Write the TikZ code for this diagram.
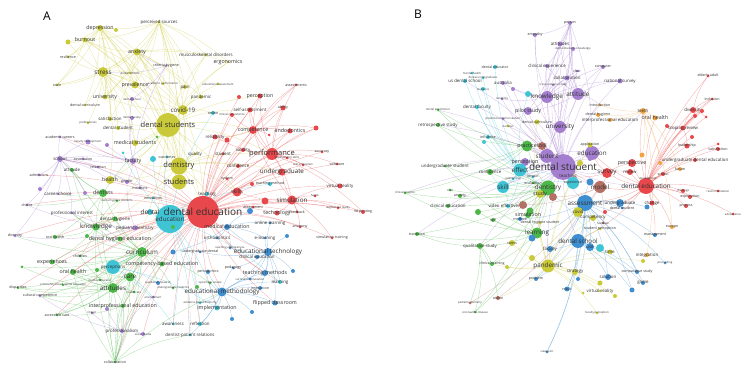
\documentclass[tikz,border=0pt]{standalone}
\usepackage{fontspec}
\setmainfont{Open Sans}
\usetikzlibrary{backgrounds}
\definecolor{cY}{HTML}{C9C93A}
\definecolor{cR}{HTML}{E8484B}
\definecolor{cG}{HTML}{4DB848}
\definecolor{cP}{HTML}{A47FD0}
\definecolor{cB}{HTML}{3E8ED0}
\definecolor{cC}{HTML}{3FC4D6}
\definecolor{cO}{HTML}{F2A341}
\definecolor{cN}{HTML}{B57065}
\definecolor{txt}{HTML}{303030}

\begin{document}
\begin{tikzpicture}[x=1pt, y=-1pt,
  dot/.style={circle, inner sep=0pt, draw=none, fill=#1},
  sz/.style={minimum size=#1pt},
  tx/.style n args={2}{label={[#1]center:#2}},
  f0/.style={font=\fontsize{2.8}{3}\selectfont, text=txt, inner sep=0pt},
  f1/.style={font=\fontsize{3.6}{4}\selectfont, text=txt, inner sep=0pt},
  f2/.style={font=\fontsize{4.4}{5}\selectfont, text=txt, inner sep=0pt},
  f3/.style={font=\fontsize{5.3}{6}\selectfont, text=txt, inner sep=0pt},
  f4/.style={font=\fontsize{6.3}{7}\selectfont, text=txt, inner sep=0pt},
  f5/.style={font=\fontsize{7.5}{8}\selectfont, text=txt, inner sep=0pt},
  f6/.style={font=\fontsize{10}{11}\selectfont, text=txt, inner sep=0pt},
  panel/.style={font=\fontsize{12}{12}\selectfont, text=black},
  eY/.style={draw=cY, draw opacity=0.45, line width=0.35pt},
  eR/.style={draw=cR, draw opacity=0.45, line width=0.35pt},
  eG/.style={draw=cG, draw opacity=0.45, line width=0.35pt},
  eP/.style={draw=cP, draw opacity=0.45, line width=0.35pt},
  eB/.style={draw=cB, draw opacity=0.45, line width=0.35pt},
  eC/.style={draw=cC, draw opacity=0.45, line width=0.35pt},
  eO/.style={draw=cO, draw opacity=0.45, line width=0.35pt},
  eN/.style={draw=cN, draw opacity=0.45, line width=0.35pt}
]
\useasboundingbox (0,0) rectangle (750,371);

\node[panel] (pA) at (47,16) {A};
\node[panel] (pB) at (418,14) {B};

% ---------------- A: big ones first
\node[dot=cC, sz=28, tx={f4}{education}] (educ) at (170,219) {};
\node[dot=cR, sz=32, tx={f6}{dental education}] (dedu) at (203,212) {};
\node[dot=cY, sz=24, tx={f5}{dental students}] (dstuds) at (168,125) {};
\node[dot=cY, sz=17, tx={f5}{dentistry}] (dentty) at (179,166) {};
\node[dot=cY, sz=15, tx={f5}{students}] (studs) at (179,182) {};

% A: yellow
\node[dot=cY, sz=3, tx={f2}{perceived sources}] (percv) at (159,22) {};
\node[dot=cY, sz=6, tx={f3}{depression}] (depr) at (100,28) {};
\node[dot=cY, sz=4] (ya1) at (116,30) {};
\node[dot=cY, sz=5, tx={f3}{burnout}] (burn) at (85,40) {};
\node[dot=cY, sz=5] (ya2) at (68,42) {};
\node[dot=cY, sz=7, tx={f3}{anxiety}] (anx) at (137,52) {};
\node[dot=cY, sz=3, tx={f1}{resilience}] (resil) at (68,57) {};
\node[dot=cY, sz=3, tx={f2}{musculoskeletal disorders}] (muscl) at (206,55) {};
\node[dot=cY, sz=3, tx={f3}{ergonomics}] (ergo) at (228,62) {};
\node[dot=cP, sz=3, tx={f1}{criteria hygiene}] (crit) at (166,66) {};
\node[dot=cY, sz=10, tx={f4}{stress}] (stress) at (103,72) {};
\node[dot=cY, sz=3, tx={f0}{dental schools}] (dschs) at (130,73) {};
\node[dot=cY, sz=3, tx={f1}{scale}] (scale) at (57,85) {};
\node[dot=cY, sz=7, tx={f3}{prevalence}] (preval) at (135,85) {};
\node[dot=cY, sz=3, tx={f0}{academic performance}] (acperf) at (163,84) {};
\node[dot=cY, sz=4, tx={f2}{pain}] (pain) at (185,87) {};
\node[dot=cY, sz=3, tx={f0}{educational assessment}] (edass) at (218,84) {};
\node[dot=cY, sz=4, tx={f2}{pandemic}] (pand) at (201,97) {};
\node[dot=cY, sz=5, tx={f3}{university}] (univ) at (105,97) {};
\node[dot=cP, sz=4, tx={f0}{dental school}] (dschp) at (132,99) {};
\node[dot=cY, sz=3, tx={f1}{dental curriculum}] (dcurr) at (85,105) {};
\node[dot=cY, sz=10, tx={f4}{covid-19}] (covid) at (183,110) {};
\node[dot=cY, sz=4, tx={f2}{satisfaction}] (satis) at (110,119) {};
\node[dot=cY, sz=3, tx={f0}{professionals}] (profs) at (88,123) {};
\node[dot=cP, sz=4, tx={f0}{dental faculty}] (dfac) at (132,118) {};
\node[dot=cY, sz=4, tx={f2}{dental student}] (dstu1) at (118,128) {};
\node[dot=cY, sz=6, tx={f3}{medical students}] (medstu) at (135,143) {};
\node[dot=cY, sz=8, tx={f3}{health}] (health) at (110,180) {};
\node[dot=cY, sz=3, tx={f2}{quality}] (quality) at (195,154) {};

% A: red
\node[dot=cR, sz=3, tx={f1}{assessments}] (assmts) at (296,85) {};
\node[dot=cR, sz=4] (ra1) at (239,97) {};
\node[dot=cR, sz=5, tx={f3}{perception}] (percp) at (260,96) {};
\node[dot=cR, sz=5, tx={f1}{ability}] (abil) at (283,108) {};
\node[dot=cR, sz=5, tx={f2}{self-assessment}] (selfas) at (250,110) {};
\node[dot=cR, sz=4, tx={f0}{clinical competence}] (clcomp) at (232,115) {};
\node[dot=cC, sz=4, tx={f1}{online}] (online) at (213,113) {};
\node[dot=cR, sz=5] (ra2) at (316,128) {};
\node[dot=cR, sz=8, tx={f3}{competence}] (compet) at (253,130) {};
\node[dot=cR, sz=5, tx={f3}{endodontics}] (endo) at (290,131) {};
\node[dot=cR, sz=3] (ra6) at (269,135) {};
\node[dot=cR, sz=5, tx={f2}{reliability}] (relia) at (215,137) {};
\node[dot=cR, sz=5] (ra3) at (227,140) {};
\node[dot=cR, sz=4, tx={f2}{validity}] (valid) at (243,150) {};
\node[dot=cR, sz=12, tx={f5}{performance}] (perf) at (272,154) {};
\node[dot=cR, sz=3, tx={f1}{accuracy}] (accur) at (322,152) {};
\node[dot=cR, sz=3, tx={f0}{psychomotor skills}] (psych) at (287,158) {};
\node[dot=cR, sz=3, tx={f2}{student}] (student) at (223,154) {};
\node[dot=cR, sz=4, tx={f2}{confidence}] (confid) at (238,166) {};
\node[dot=cR, sz=3, tx={f0}{skill acquisition}] (skacq) at (303,165) {};
\node[dot=cR, sz=3, tx={f1}{software}] (softw) at (337,164) {};
\node[dot=cR, sz=7, tx={f4}{undergraduate}] (ugrad) at (282,172) {};
\node[dot=cR, sz=3, tx={f1}{system}] (system) at (227,179) {};
\node[dot=cC, sz=4, tx={f1}{teaching method}] (teachm) at (270,184) {};
\node[dot=cR, sz=4] (ra4) at (252,184) {};
\node[dot=cR, sz=5, tx={f2}{virtual reality}] (vr) at (340,186) {};
\node[dot=cR, sz=9, tx={f3}{skills}] (skills) at (237,192) {};
\node[dot=cC, sz=4, tx={f2}{teaching}] (teach) at (207,194) {};
\node[dot=cR, sz=9, tx={f4}{simulation}] (simul) at (292,200) {};
\node[dot=cR, sz=7] (ra5) at (265,201) {};
\node[dot=cR, sz=3, tx={f0}{haptic}] (haptic) at (315,196) {};
\node[dot=cR, sz=3, tx={f1}{assessment}] (assmt) at (253,207) {};
\node[dot=cB, sz=6] (ba1) at (250,211) {};
\node[dot=cR, sz=5, tx={f3}{technology}] (techn) at (277,213) {};
\node[dot=cR, sz=3, tx={f1}{feedback}] (feedb) at (297,212) {};
\node[dot=cR, sz=3, tx={f0}{augmented reality}] (augr) at (338,208) {};
\node[dot=cR, sz=4, tx={f1}{3d printing}] (print3d) at (363,212) {};
\node[dot=cR, sz=3, tx={f1}{anatomy}] (anat) at (300,227) {};
\node[dot=cR, sz=3, tx={f1}{simulation training}] (simtr) at (332,238) {};

% A: blue / cyan
\node[dot=cC, sz=6, tx={f4}{dental}] (dental) at (150,212) {};
\node[dot=cB, sz=3, tx={f2}{online learning}] (onll) at (270,223) {};
\node[dot=cB, sz=6, tx={f3}{medical education}] (mededu) at (227,227) {};
\node[dot=cB, sz=3, tx={f2}{orthodontics}] (ortho) at (217,238) {};
\node[dot=cB, sz=3, tx={f2}{e-learning}] (elearn) at (265,238) {};
\node[dot=cB, sz=4] (ba2) at (287,236) {};
\node[dot=cB, sz=3, tx={f0}{teaching effectiveness}] (teacheff) at (230,248) {};
\node[dot=cB, sz=3, tx={f1}{undergraduate dental}] (ugdent) at (200,252) {};
\node[dot=cB, sz=8, tx={f4}{educational technology}] (edtech) at (268,252) {};
\node[dot=cB, sz=4, tx={f2}{clinical education}] (clinedu) at (257,257) {};
\node[dot=cB, sz=4, tx={f1}{periodontics}] (ortho2) at (208,272) {};
\node[dot=cB, sz=3, tx={f1}{pedagogy}] (pedag) at (233,268) {};
\node[dot=cB, sz=6, tx={f3}{teaching methods}] (teachms) at (265,273) {};
\node[dot=cB, sz=4] (ba4) at (293,271) {};
\node[dot=cC, sz=4, tx={f2}{learning}] (learning) at (280,282) {};
\node[dot=cB, sz=3, tx={f0}{curriculum innovation}] (curinn) at (250,279) {};
\node[dot=cG, sz=3, tx={f0}{systematic review}] (sysrev) at (210,283) {};
\node[dot=cG, sz=4] (ga6) at (197,287) {};
\node[dot=cB, sz=9, tx={f4}{educational methodology}] (edmeth) at (222,292) {};
\node[dot=cB, sz=4, tx={f1}{instruction}] (instr) at (260,288) {};
\node[dot=cB, sz=5, tx={f3}{flipped classroom}] (flip) at (275,303) {};
\node[dot=cB, sz=4] (ba5) at (252,312) {};
\node[dot=cB, sz=4] (ba6) at (232,319) {};
\node[dot=cC, sz=5, tx={f3}{implementation}] (implem) at (217,308) {};
\node[dot=cC, sz=3, tx={f0}{evidence-based dentistry}] (ebd) at (200,303) {};
\node[dot=cC, sz=4, tx={f2}{reflection}] (reflec) at (200,324) {};
\node[dot=cC, sz=3, tx={f2}{dentist-patient relations}] (dpr) at (190,335) {};
\node[dot=cC, sz=3, tx={f2}{awareness}] (aware) at (173,324) {};
\node[dot=cC, sz=3] (ca1) at (123,153) {};
\node[dot=cC, sz=6] (ca2) at (153,159) {};
\node[dot=cC, sz=3, tx={f1}{outcomes}] (outc) at (167,157) {};
\node[dot=cC, sz=3, tx={f1}{innovation}] (innov) at (153,198) {};

% A: purple / green
\node[dot=cP, sz=3, tx={f1}{academic careers}] (accar) at (60,137) {};
\node[dot=cP, sz=5, tx={f0}{faculty development}] (facdev) at (88,142) {};
\node[dot=cP, sz=4] (pa1) at (107,145) {};
\node[dot=cG, sz=3] (ga1) at (157,137) {};
\node[dot=cP, sz=6, tx={f2}{school}] (school) at (60,159) {};
\node[dot=cP, sz=3, tx={f1}{association}] (assoc) at (83,159) {};
\node[dot=cP, sz=3, tx={f1}{retention}] (reten) at (98,167) {};
\node[dot=cG, sz=4, tx={f2}{attitude}] (attit) at (72,170) {};
\node[dot=cP, sz=6, tx={f3}{faculty}] (faculty) at (133,161) {};
\node[dot=cP, sz=3, tx={f1}{admissions}] (admis) at (39,175) {};
\node[dot=cP, sz=4, tx={f1}{gender}] (gender) at (127,182) {};
\node[dot=cP, sz=3, tx={f1}{medicine}] (medic) at (140,188) {};
\node[dot=cP, sz=3, tx={f2}{career choice}] (carch) at (58,194) {};
\node[dot=cP, sz=4] (pa2) at (40,189) {};
\node[dot=cP, sz=4] (pa3) at (85,193) {};
\node[dot=cG, sz=8, tx={f3}{dentists}] (dentists) at (103,193) {};
\node[dot=cG, sz=3, tx={f0}{dental hygiene students}] (dhstud) at (117,201) {};
\node[dot=cP, sz=3, tx={f1}{choice}] (choice) at (27,205) {};
\node[dot=cP, sz=3, tx={f2}{professional interest}] (profint) at (72,213) {};
\node[dot=cG, sz=5, tx={f2}{dental hygiene}] (dhyg) at (115,219) {};
\node[dot=cG, sz=7, tx={f4}{knowledge}] (knowl) at (96,227) {};
\node[dot=cP, sz=5, tx={f2}{pediatric dentistry}] (pedd) at (135,228) {};
\node[dot=cG, sz=4] (ga2) at (173,227) {};
\node[dot=cP, sz=3, tx={f1}{diversity}] (divers) at (15,236) {};
\node[dot=cG, sz=4, tx={f1}{oral health}] (oralha) at (55,237) {};
\node[dot=cG, sz=4] (ga3) at (87,236) {};
\node[dot=cG, sz=5, tx={f3}{dental hygiene education}] (dhedu) at (120,239) {};
\node[dot=cG, sz=3, tx={f1}{children}] (child) at (80,256) {};
\node[dot=cG, sz=5, tx={f3}{experiences}] (exper) at (52,262) {};
\node[dot=cG, sz=3] (ga4) at (22,267) {};
\node[dot=cC, sz=14, tx={f2}{perceptions}] (percps) at (113,267) {};
\node[dot=cG, sz=10, tx={f4}{curriculum}] (curric) at (142,252) {};
\node[dot=cG, sz=5, tx={f3}{competency-based education}] (cbe) at (162,264) {};
\node[dot=cB, sz=5] (ba3) at (173,252) {};
\node[dot=cG, sz=6, tx={f3}{oral health}] (oralh) at (73,272) {};
\node[dot=cG, sz=9, tx={f4}{care}] (care) at (130,277) {};
\node[dot=cG, sz=4] (ga5) at (97,270) {};
\node[dot=cG, sz=3, tx={f0}{medical educator}] (mededr) at (100,280) {};
\node[dot=cG, sz=3, tx={f1}{disparities}] (dispar) at (18,288) {};
\node[dot=cG, sz=3, tx={f0}{community based dental education}] (cbde) at (63,285) {};
\node[dot=cG, sz=10, tx={f4}{attitudes}] (attits) at (113,288) {};
\node[dot=cG, sz=3, tx={f0}{health care}] (hcare) at (134,292) {};
\node[dot=cB, sz=4, tx={f0}{qualitative research}] (qualr) at (158,283) {};
\node[dot=cG, sz=3, tx={f0}{undergraduate students}] (ugstud) at (173,288) {};
\node[dot=cP, sz=3, tx={f1}{cultural competence}] (cultc) at (40,296) {};
\node[dot=cP, sz=3, tx={f0}{environment}] (envir) at (153,297) {};
\node[dot=cG, sz=4, tx={f3}{interprofessional education}] (ipe) at (123,306) {};
\node[dot=cP, sz=4] (pa4) at (107,309) {};
\node[dot=cG, sz=3, tx={f1}{accessible care}] (accc) at (57,315) {};
\node[dot=cP, sz=3, tx={f0}{impact}] (impact) at (92,313) {};
\node[dot=cP, sz=4, tx={f2}{professionalism}] (profsm) at (122,331) {};
\node[dot=cP, sz=4, tx={f0}{social media}] (socmed) at (143,334) {};
\node[dot=cG, sz=3, tx={f1}{collaboration}] (collab) at (115,362) {};

% ---------------- B: big ones first
\node[dot=cP, sz=26, tx={f6}{dental student}] (dstub) at (563,167) {};
\node[dot=cR, sz=16, tx={f4}{dental education}] (dedub) at (646,186) {};
\node[dot=cB, sz=16, tx={f4}{assessment}] (assmtb) at (585,203) {};
\node[dot=cG, sz=15, tx={f4}{dentistry}] (dentb) at (548,188) {};

% B: purple
\node[dot=cP, sz=4, tx={f1}{person}] (person) at (570,23) {};
\node[dot=cP, sz=4, tx={f1}{empathy}] (empathy) at (535,35) {};
\node[dot=cP, sz=5, tx={f2}{attitudes}] (attds) at (560,44) {};
\node[dot=cP, sz=4, tx={f0}{dental students knowledge}] (dsk) at (573,49) {};
\node[dot=cP, sz=4, tx={f2}{clinical experience}] (clexp) at (547,66) {};
\node[dot=cP, sz=3, tx={f1}{chat}] (chat) at (577,71) {};
\node[dot=cP, sz=4, tx={f1}{computer}] (comp) at (603,67) {};
\node[dot=cP, sz=4, tx={f2}{australia}] (austr) at (503,83) {};
\node[dot=cP, sz=5, tx={f2}{collaboration}] (collb) at (567,78) {};
\node[dot=cP, sz=3, tx={f0}{cross-sectional study}] (cross) at (553,85) {};
\node[dot=cP, sz=5, tx={f2}{national survey}] (natsv) at (620,81) {};
\node[dot=cP, sz=4] (pb1) at (513,89) {};
\node[dot=cP, sz=12, tx={f4}{knowledge}] (knowb) at (547,97) {};
\node[dot=cP, sz=12, tx={f4}{attitude}] (attb) at (578,94) {};
\node[dot=cP, sz=3, tx={f0}{reliability}] (relb) at (502,99) {};
\node[dot=cP, sz=8, tx={f3}{pilot study}] (pilot) at (528,111) {};
\node[dot=cP, sz=3, tx={f0}{predoctoral dental student}] (pdedu) at (503,119) {};
\node[dot=cP, sz=12, tx={f4}{university}] (univb) at (560,127) {};
\node[dot=cP, sz=14, tx={f4}{student}] (studb) at (547,156) {};
\node[dot=cP, sz=8, tx={f3}{perception}] (percb) at (525,162) {};
\node[dot=cP, sz=14, tx={f4}{education}] (edub) at (592,153) {};
\node[dot=cP, sz=4] (ethics) at (590,159) {};
\node[dot=cP, sz=6, tx={f2}{teaching}] (teachb) at (568,176) {};

% B: cyan
\node[dot=cC, sz=4, tx={f1}{dental educator}] (deducr) at (495,67) {};
\node[dot=cC, sz=3, tx={f0}{mental health}] (menth) at (472,73) {};
\node[dot=cC, sz=3, tx={f0}{dental undergraduate}] (dug) at (483,78) {};
\node[dot=cC, sz=4, tx={f2}{us dental school}] (usds) at (465,81) {};
\node[dot=cC, sz=4, tx={f0}{resilience}] (resilb) at (483,89) {};
\node[dot=cC, sz=6] (cb1) at (528,94) {};
\node[dot=cC, sz=4, tx={f2}{dental faculty}] (dfacb) at (477,107) {};
\node[dot=cC, sz=4, tx={f1}{influence}] (influ) at (488,137) {};
\node[dot=cC, sz=4] (cb2) at (484,142) {};
\node[dot=cC, sz=13, tx={f4}{effect}] (effect) at (520,170) {};
\node[dot=cC, sz=3, tx={f1}{impact}] (impctb) at (533,177) {};
\node[dot=cC, sz=3, tx={f0}{relationship}] (relsh) at (513,179) {};
\node[dot=cC, sz=12, tx={f4}{skill}] (skill) at (503,187) {};
\node[dot=cC, sz=4, tx={f2}{video effectiveness}] (video) at (508,206) {};
\node[dot=cC, sz=12, tx={f1}{experience}] (cb4) at (573,183) {};
\node[dot=cC, sz=8] (cb3) at (600,248) {};

% B: green
\node[dot=cG, sz=3, tx={f0}{dental practitioner}] (dprac) at (438,110) {};
\node[dot=cG, sz=4, tx={f2}{retrospective study}] (retro) at (438,125) {};
\node[dot=cG, sz=11, tx={f3}{practice}] (pract) at (527,146) {};
\node[dot=cG, sz=3, tx={f2}{undergraduate student}] (ugstb) at (445,166) {};
\node[dot=cG, sz=6, tx={f2}{confidence}] (confb) at (490,172) {};
\node[dot=cG, sz=3, tx={f1}{evaluation}] (evalb) at (533,183) {};
\node[dot=cG, sz=3, tx={f0}{clinical practice}] (clprac) at (405,193) {};
\node[dot=cG, sz=3, tx={f0}{trial}] (trial) at (450,190) {};
\node[dot=cG, sz=4, tx={f1}{anxiety}] (anxb) at (460,196) {};
\node[dot=cG, sz=4, tx={f2}{clinical education}] (cledb) at (448,206) {};
\node[dot=cG, sz=6] (gb1) at (478,212) {};
\node[dot=cG, sz=7] (gb2) at (530,211) {};
\node[dot=cG, sz=6, tx={f3}{simulation}] (simb) at (528,215) {};
\node[dot=cG, sz=4, tx={f1}{self}] (self) at (493,220) {};
\node[dot=cG, sz=4, tx={f1}{transition}] (trans) at (417,234) {};
\node[dot=cG, sz=11, tx={f4}{learning}] (learnb) at (537,233) {};
\node[dot=cG, sz=6, tx={f2}{qualitative study}] (qual) at (480,246) {};
\node[dot=cG, sz=4, tx={f1}{clinical training}] (cltr) at (492,264) {};
\node[dot=cG, sz=3, tx={f0}{coronavirus disease}] (coro) at (475,312) {};

% B: brown / blue / yellow
\node[dot=cN, sz=8, tx={f3}{tool}] (tool) at (542,146) {};
\node[dot=cN, sz=8] (bb1) at (553,197) {};
\node[dot=cN, sz=8] (bb2) at (523,205) {};
\node[dot=cN, sz=12, tx={f4}{model}] (model) at (600,187) {};
\node[dot=cN, sz=4, tx={f1}{online}] (onlineb) at (498,298) {};
\node[dot=cN, sz=3, tx={f0}{pediatric dentistry}] (pedb) at (470,303) {};
\node[dot=cN, sz=3, tx={f0}{feedback}] (feedbb) at (603,223) {};
\node[dot=cY, sz=5, tx={f1}{dental curriculum}] (dcurb) at (537,122) {};
\node[dot=cY, sz=3, tx={f0}{burnout}] (burnb) at (508,126) {};
\node[dot=cY, sz=8, tx={f3}{study}] (study) at (540,194) {};
\node[dot=cY, sz=3, tx={f1}{dental hygiene student}] (dhst) at (540,223) {};
\node[dot=cY, sz=6, tx={f1}{stress}] (stressb) at (512,243) {};
\node[dot=cY, sz=4] (yb1) at (507,267) {};
\node[dot=cY, sz=6] (yb2) at (532,258) {};
\node[dot=cY, sz=13, tx={f4}{pandemic}] (pandb) at (548,266) {};
\node[dot=cY, sz=5, tx={f2}{time}] (time) at (610,252) {};
\node[dot=cY, sz=4] (yb3) at (643,261) {};
\node[dot=cY, sz=6, tx={f2}{strategy}] (strat) at (575,272) {};
\node[dot=cY, sz=5] (yb4) at (600,283) {};
\node[dot=cY, sz=3, tx={f2}{virtual reality}] (vrb) at (600,291) {};
\node[dot=cY, sz=4] (yb5) at (615,296) {};
\node[dot=cY, sz=3] (yb6) at (583,293) {};
\node[dot=cY, sz=3, tx={f0}{faculty perception}] (facper) at (597,313) {};
\node[dot=cY, sz=5, tx={f1}{application}] (appl) at (590,145) {};
\node[dot=cY, sz=6] (yb7) at (580,163) {};
\node[dot=cY, sz=10, tx={f2}{covid}] (covb) at (578,212) {};
\node[dot=cY, sz=6, tx={f2}{competency}] (compt) at (593,218) {};
\node[dot=cY, sz=3, tx={f1}{student perception}] (stper) at (600,229) {};
\node[dot=cB, sz=4, tx={f1}{method}] (method) at (520,219) {};
\node[dot=cB, sz=7] (bb3) at (532,238) {};
\node[dot=cB, sz=14, tx={f4}{dental school}] (dschb) at (578,241) {};
\node[dot=cB, sz=8, tx={f2}{use}] (use) at (590,247) {};
\node[dot=cB, sz=6, tx={f2}{faculty}] (faculb) at (550,249) {};
\node[dot=cB, sz=4, tx={f1}{problem}] (probl) at (536,279) {};
\node[dot=cB, sz=4] (bb5) at (578,279) {};
\node[dot=cB, sz=5, tx={f1}{result}] (result) at (567,289) {};
\node[dot=cB, sz=3, tx={f0}{viewpoint}] (viewp) at (547,352) {};
\node[dot=cB, sz=3, tx={f0}{proceeding}] (proc) at (665,263) {};
\node[dot=cB, sz=4, tx={f1}{comparative study}] (compst) at (637,272) {};
\node[dot=cB, sz=6, tx={f2}{solution}] (solut) at (608,277) {};
\node[dot=cB, sz=4, tx={f2}{game}] (game) at (643,283) {};
\node[dot=cB, sz=5] (bb4) at (632,290) {};
\node[dot=cB, sz=7] (bb6) at (590,182) {};
\node[dot=cB, sz=8, tx={f2}{undergraduate}] (ugb) at (620,203) {};
\node[dot=cB, sz=3, tx={f1}{dental student}] (dstb2) at (622,208) {};
\node[dot=cB, sz=5] (bb7) at (647,207) {};
\node[dot=cB, sz=4, tx={f1}{management}] (mgmt) at (655,235) {};

% B: orange / red
\node[dot=cO, sz=3, tx={f1}{introduction}] (intro) at (600,105) {};
\node[dot=cO, sz=6, tx={f2}{teeth}] (teeth) at (643,111) {};
\node[dot=cO, sz=4, tx={f1}{dental hygiene}] (dhygb) at (598,115) {};
\node[dot=cO, sz=4, tx={f2}{interprofessional education}] (ipeb) at (610,120) {};
\node[dot=cO, sz=5, tx={f3}{oral health}] (oralhb) at (655,118) {};
\node[dot=cO, sz=5] (ob1) at (642,155) {};
\node[dot=cO, sz=4] (ob2) at (660,163) {};
\node[dot=cO, sz=4, tx={f1}{future}] (future) at (680,169) {};
\node[dot=cO, sz=4, tx={f2}{integration}] (integ) at (647,255) {};
\node[dot=cO, sz=4, tx={f1}{europe}] (europe) at (672,227) {};
\node[dot=cR, sz=3, tx={f1}{elderly adult}] (eldad) at (708,76) {};
\node[dot=cR, sz=3, tx={f1}{inclusion}] (inclu) at (712,99) {};
\node[dot=cR, sz=6, tx={f2}{diversity}] (diverb) at (693,110) {};
\node[dot=cR, sz=4] (rb1) at (702,111) {};
\node[dot=cR, sz=4] (rb2) at (695,116) {};
\node[dot=cR, sz=3] (rb3) at (706,117) {};
\node[dot=cR, sz=4] (rb4) at (667,126) {};
\node[dot=cR, sz=5, tx={f2}{scoping review}] (scopr) at (683,128) {};
\node[dot=cR, sz=4] (rb5) at (692,137) {};
\node[dot=cR, sz=3] (rb6) at (718,144) {};
\node[dot=cR, sz=5, tx={f1}{leadership}] (leader) at (687,146) {};
\node[dot=cR, sz=4, tx={f1}{satisfaction}] (satb) at (718,149) {};
\node[dot=cR, sz=8, tx={f3}{perspective}] (persp) at (632,163) {};
\node[dot=cR, sz=4, tx={f2}{undergraduate dental education}] (ugde) at (695,160) {};
\node[dot=cR, sz=6, tx={f2}{review}] (review) at (630,172) {};
\node[dot=cR, sz=4, tx={f1}{school}] (schoolb) at (663,174) {};
\node[dot=cR, sz=10, tx={f4}{survey}] (survey) at (607,173) {};
\node[dot=cR, sz=3, tx={f0}{development}] (devel) at (648,179) {};
\node[dot=cR, sz=3, tx={f0}{recommendation}] (recom) at (718,191) {};
\node[dot=cR, sz=4, tx={f0}{challenge}] (chall) at (683,191) {};
\node[dot=cR, sz=4, tx={f1}{exploration}] (explor) at (690,197) {};
\node[dot=cR, sz=5, tx={f2}{change}] (change) at (652,203) {};
\node[dot=cR, sz=4, tx={f1}{process}] (process) at (686,206) {};
\node[dot=cR, sz=3, tx={f0}{adolescence}] (adol) at (733,214) {};
\node[dot=cR, sz=4] (rb7) at (605,212) {};

% ---------------- links
\begin{scope}[on background layer]
% A
\foreach \b in {depr,anx,stress,burn,preval,muscl,ergo,covid,dstuds,univ,pand,pain,dentty,studs,acperf,dschs}
  \draw[eY] (percv) to[bend left=10] (\b);
\foreach \b in {burn,ya1,ya2,anx,stress,resil,scale,preval,univ,dstuds,covid,dcurr,satis,dentty,studs,medstu}
  \draw[eY] (depr) to[bend left=10] (\b);
\foreach \b in {burn,stress,preval,covid,dstuds,univ,scale,pand,satis,studs,muscl,acperf,dentty,pain,ergo}
  \draw[eY] (anx) to[bend left=10] (\b);
\foreach \b in {resil,scale,univ,dcurr,satis,dstu1,dstuds,covid,medstu,studs,dentty,health,ya2,preval,profs,dschs}
  \draw[eY] (stress) to[bend left=10] (\b);
\foreach \b in {ya2,resil,univ,dstuds,covid,scale,preval}
  \draw[eY] (burn) to[bend left=10] (\b);
\foreach \b in {pand,pain,dstuds,dentty,online,edass,ergo,muscl,studs,dedu,medstu,preval,univ}
  \draw[eY] (covid) to[bend left=10] (\b);
\foreach \b in {studs,dentty,health,dedu,perf,percp,selfas,muscl,ergo,quality,medstu,knowl,attits,curric,skills,compet,faculty,satis,dstu1}
  \draw[eY] (dstuds) to[bend left=10] (\b);
\foreach \b in {dedu,perf,skills,compet,quality,student,health,faculty,confid,teach,ugrad,knowl}
  \draw[eY] (dentty) to[bend left=10] (\b);
\foreach \b in {perf,skills,simul,compet,endo,percp,assmts,abil,selfas,vr,print3d,simtr,accur,softw,ugrad,techn,anat,feedb,augr,relia,valid,confid,system,student,clcomp,ra1,ra2,ra3,ra4,ra5,skacq,psych}
  \draw[eR] (dedu) to[bend left=10] (\b);
\foreach \b in {curric,attits,knowl,dentists,school,health,edtech,edmeth,flip,collab,profsm,ipe,oralh,exper,divers,choice,carch,teachms,learning,mededu,care,cbe,admis,accar,dhedu,dpr,aware,reflec,implem,faculty,oralha,child,cultc,accc,dispar,socmed}
  \draw[eR] (dedu) to[bend right=10] (\b);
\foreach \b in {accur,softw,vr,skills,simul,compet,endo,assmts,abil,ugrad,valid,relia,skacq,psych,percp,selfas,ra2,confid,print3d}
  \draw[eR] (perf) to[bend left=10] (\b);
\foreach \b in {vr,print3d,haptic,simtr,augr,techn,feedb,anat,skills,ugrad,compet,ra5}
  \draw[eR] (simul) to[bend left=10] (\b);
\foreach \b in {endo,percp,abil,selfas,assmts,relia,valid,ra2,clcomp,ra6}
  \draw[eR] (compet) to[bend left=10] (\b);
\foreach \b in {attits,care,knowl,dentists,cbe,oralh,exper,child,ipe,collab,dhedu,dhyg,ga2,ga3,ga5,dispar,cultc,accc,cbde,hcare,qualr,ugstud,sysrev,divers,ga4,profint,attit}
  \draw[eG] (curric) to[bend left=10] (\b);
\foreach \b in {care,knowl,oralh,collab,ipe,dispar,cultc,accc,exper,dentists,child,mededr,cbde,ga4,hcare}
  \draw[eG] (attits) to[bend left=10] (\b);
\foreach \b in {oralh,ipe,accc,dispar,collab,hcare,ga5}
  \draw[eG] (care) to[bend left=10] (\b);
\foreach \b in {dentists,dhyg,attit,dhedu,oralha,profint,exper,child,dhstud}
  \draw[eG] (knowl) to[bend left=10] (\b);
\foreach \b in {collab,profsm,accc,cultc}
  \draw[eG] (ipe) to[bend left=10] (\b);
\foreach \b in {attit,carch,choice,oralha,school,ga1}
  \draw[eG] (dentists) to[bend left=10] (\b);
\foreach \b in {curric,attits,care,profsm,knowl,percps,edmeth,dpr,cbe,oralh}
  \draw[eG] (collab) to[bend left=10] (\b);
\foreach \b in {accar,admis,assoc,choice,carch,profint,divers,pa2,pa3,attit,reten,facdev,faculty,gender,medic,health}
  \draw[eP] (school) to[bend left=10] (\b);
\foreach \b in {facdev,pa1,gender,medic,assoc,accar,crit,dfac,dschp}
  \draw[eP] (faculty) to[bend left=10] (\b);
\foreach \b in {socmed,collab,cultc,envir,pa4,impact,ipe}
  \draw[eP] (profsm) to[bend left=10] (\b);
\foreach \b in {gender,divers,choice,profint}
  \draw[eP] (pedd) to[bend left=10] (\b);
\foreach \b in {anx,stress,dschp}
  \draw[eP] (crit) to[bend left=10] (\b);
\foreach \b in {teachms,flip,learning,curinn,instr,pedag,clinedu,onll,elearn,mededu,ba4,ba2,teacheff,ugdent,edmeth}
  \draw[eB] (edtech) to[bend left=10] (\b);
\foreach \b in {teachms,flip,learning,implem,reflec,ba5,ba6,instr,curinn,pedag,sysrev,ortho2,dpr,ebd,ga6}
  \draw[eB] (edmeth) to[bend left=10] (\b);
\foreach \b in {onll,elearn,ortho,ba1,teacheff,ba3}
  \draw[eB] (mededu) to[bend left=10] (\b);
\foreach \b in {percps,online,teach,innov,outc,ca1,ca2,aware,implem,reflec,dpr,ebd,dental,learning,teachm}
  \draw[eC] (educ) to[bend left=10] (\b);
\foreach \b in {aware,envir,implem,qualr}
  \draw[eC] (percps) to[bend left=10] (\b);
% B
\foreach \b in {studb,percb,knowb,attb,univb,pilot,edub,teachb,clexp,attds,collb,person,empathy,austr,comp,natsv,chat,cross,dsk,relb,pb1,ethics,intro,pdedu}
  \draw[eP] (dstub) to[bend left=10] (\b);
\foreach \b in {effect,skill,dentb,study,pract,tool,assmtb,model,survey,dedub,learnb,pandb,dschb,confb,ugstb,clprac,trans,qual,simb,video,cledb,retro,dprac,cb1,usds,dfacb,influ,teeth,dcurb,burnb}
  \draw[eP] (dstub) to[bend right=10] (\b);
\foreach \b in {attb,attds,person,empathy,clexp,collb,austr,pilot,univb,cross,dsk,relb,pb1,cb1,natsv,comp,chat}
  \draw[eP] (knowb) to[bend left=10] (\b);
\foreach \b in {person,attds,clexp,collb,natsv,comp,intro,pilot,univb,chat,dsk}
  \draw[eP] (attb) to[bend left=10] (\b);
\foreach \b in {attds,clexp,empathy,collb,univb,studb,pilot,edub}
  \draw[eP] (person) to[bend left=10] (\b);
\foreach \b in {percb,pract,tool,univb,edub}
  \draw[eP] (studb) to[bend left=10] (\b);
\foreach \b in {survey,persp,review,ugde,schoolb,leader,satb,rb6,rb5,scopr,diverb,inclu,eldad,rb1,rb2,rb3,adol,recom,chall,explor,process,change,devel,rb7,model,edub,assmtb,dschb,ugb,future,europe,teeth,oralhb,mgmt,rb4}
  \draw[eR] (dedub) to[bend left=10] (\b);
\foreach \b in {persp,review,model,edub,teachb}
  \draw[eR] (survey) to[bend left=10] (\b);
\foreach \b in {leader,diverb,rb1,rb2,inclu,rb4}
  \draw[eR] (scopr) to[bend left=10] (\b);
\foreach \b in {inclu,eldad,rb1,rb2,rb3}
  \draw[eR] (diverb) to[bend left=10] (\b);
\foreach \b in {pract,learnb,confb,evalb,simb,gb1,gb2,self,cledb,anxb,trial,ugstb,clprac,retro,dprac,trans,qual,cltr,coro,effect,skill}
  \draw[eG] (dentb) to[bend left=10] (\b);
\foreach \b in {qual,trans,cltr,coro,simb,self,gb1,clprac,ugstb}
  \draw[eG] (learnb) to[bend left=10] (\b);
\foreach \b in {retro,dprac,ugstb,confb,influ,clprac}
  \draw[eG] (pract) to[bend left=10] (\b);
\foreach \b in {coro,cltr,pedb,onlineb,trans}
  \draw[eG] (qual) to[bend left=10] (\b);
\foreach \b in {yb1,yb2,stressb,strat,vrb,yb4,yb5,yb6,facper,time,yb3,study,dhst,compt,covb,stper,cltr,dcurb,onlineb,appl,yb7}
  \draw[eY] (pandb) to[bend left=10] (\b);
\foreach \b in {dschb,use,faculb,ugb,dstb2,bb6,bb7,method,probl,result,solut,game,compst,proc,bb4,bb5,mgmt,viewp,bb3}
  \draw[eB] (assmtb) to[bend left=10] (\b);
\foreach \b in {use,faculb,probl,result,solut,game,compst,bb4,viewp}
  \draw[eB] (dschb) to[bend left=10] (\b);
\foreach \b in {skill,impctb,relsh,video,cb1,cb2,influ,usds,dfacb,deducr,menth,dug,resilb,cb3,cb4}
  \draw[eC] (effect) to[bend left=10] (\b);
\foreach \b in {video,relsh,confb,cb4}
  \draw[eC] (skill) to[bend left=10] (\b);
\foreach \b in {oralhb,intro,dhygb,ipeb,ob1,ob2,future,europe,integ}
  \draw[eO] (teeth) to[bend left=10] (\b);
\foreach \b in {tool,bb1,bb2,onlineb,pedb,feedbb}
  \draw[eN] (model) to[bend left=10] (\b);
\end{scope}
\end{tikzpicture}
\end{document}
